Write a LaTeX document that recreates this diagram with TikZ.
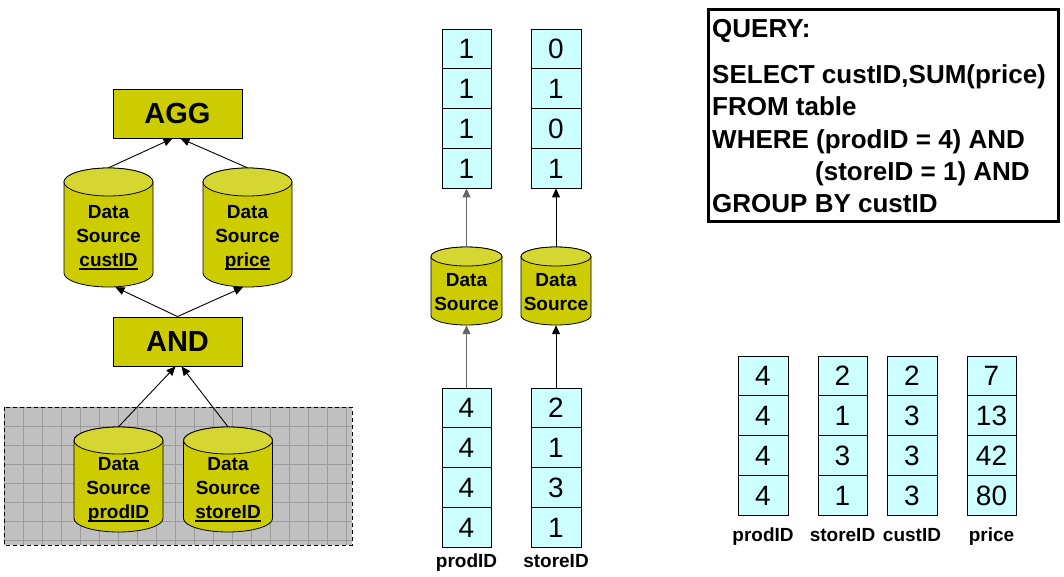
\documentclass[tikz,border=0pt]{standalone}
\usepackage{fontspec}
\setmainfont{Liberation Sans}
\usetikzlibrary{arrows.meta,calc}
\definecolor{ybody}{RGB}{204,204,0}
\definecolor{ytop}{RGB}{214,214,50}
\definecolor{cellc}{RGB}{204,255,255}
\definecolor{greyfill}{RGB}{192,192,192}
\definecolor{gridc}{RGB}{155,155,155}
\tikzset{
  opbox/.style={draw=black,line width=0.9pt,fill=ybody,inner sep=0pt,minimum width=129pt,minimum height=49pt,font=\fontsize{29}{29}\selectfont\bfseries},
  cyltxt/.style={inner sep=0pt,align=center,font=\fontsize{19}{24}\selectfont\bfseries},
  cell/.style={draw=black,line width=0.8pt,fill=cellc,inner sep=0pt,minimum height=39.75pt,text height=20pt,text depth=0pt,font=\fontsize{28}{28}\selectfont},
  lbl/.style={inner sep=0pt,anchor=base,font=\fontsize{19}{19}\selectfont\bfseries},
  qtxt/.style={inner sep=0pt,anchor=base west,font=\fontsize{26}{26}\selectfont\bfseries},
  arr/.style={line width=0.9pt,-{Triangle[length=9pt,width=8pt]}},
  grayarr/.style={arr,line width=1.2pt,draw=gray!80!black},
}
\newcommand{\myul}[1]{\setbox0\hbox{#1}\rlap{\rule[-4pt]{\wd0}{1.8pt}}\box0}
\newcommand{\mycyl}[8]{%
  \filldraw[fill=ybody,draw=black,line width=0.8pt] ({#2-#5},{-#3-#6}) -- ({#2-#5},{-#4+#6}) arc[start angle=180,end angle=360,x radius=#5pt,y radius=#6pt] -- ({#2+#5},{-#3-#6}) arc[start angle=0,end angle=180,x radius=#5pt,y radius=#6pt] -- cycle;
  \filldraw[fill=ytop,draw=black,line width=0.8pt] (#2,{-#3-#6}) ellipse[x radius=#5pt,y radius=#6pt];
  \node[inner sep=0pt,minimum width={2*#5pt},minimum height={(#4-#3)*1pt}] (#1) at (#2,{-(#3+#4)/2}) {};
  \node[cyltxt] (#1t) at (#2,{-(#3+#4)/2-#7}) {#8};
}
\newcommand{\mycol}[8]{%
  \foreach[count=\i] \v in {#5,#6,#7,#8} {
    \node[cell,minimum width=#4pt] (#1\i) at (#2,{-#3-(\i-0.5)*39.75}) {\v};
  }
}
\begin{document}
\begin{tikzpicture}[x=1pt,y=1pt]
\useasboundingbox[fill=white] (0,0) rectangle (1064,-576);
% grey grid region
\begin{scope}
  \clip (4,-407) rectangle (352,-545);
  \fill[greyfill] (4,-407) rectangle (352,-545);
  \draw[gridc,line width=0.6pt,step=19pt,shift={(4,-407)}] (0,0) grid (348,-138);
\end{scope}
\draw[dashed,line width=0.8pt,dash pattern=on 4pt off 3pt] (4,-407) rectangle (352,-545);
% operator boxes
\node[opbox] (agg) at (177.5,-113.5) {AGG};
\node[opbox] (and) at (177.5,-341.5) {AND};
% cylinders (left)
\mycyl{dcust}{108.5}{168}{287}{44.5}{14}{10}{Data\\Source\\\myul{custID}}
\mycyl{dprice}{247.5}{168}{287}{44.5}{14}{10}{Data\\Source\\\myul{price}}
\mycyl{dprod}{118.5}{427}{532}{44.5}{13.5}{10}{Data\\Source\\\myul{prodID}}
\mycyl{dstore}{228}{427}{532}{44.5}{13.5}{10}{Data\\Source\\\myul{storeID}}
% left arrows
\draw[arr] (dcust.north) -- ([xshift=-5pt]agg.south);
\draw[arr] (dprice.north) -- ([xshift=3pt]agg.south);
\draw[arr] (and.north) -- ([xshift=7pt]dcust.south);
\draw[arr] (and.north) -- ([xshift=-4.5pt]dprice.south);
\draw[arr] (dprod.north) -- ([xshift=-2pt]and.south);
\draw[arr] (dstore.north) -- ([xshift=4pt]and.south);
% middle columns
\mycol{ta}{466.5}{29}{49}{1}{1}{1}{1}
\mycol{tb}{556}{29}{50}{0}{1}{0}{1}
\mycyl{ma}{466.5}{247}{325}{35.5}{9.5}{6}{Data\\Source}
\mycyl{mb}{556}{247}{325}{35}{9.5}{6}{Data\\Source}
\mycol{ba}{466.5}{388}{49}{4}{4}{4}{4}
\mycol{bb}{556}{388}{50}{2}{1}{3}{1}
\draw[grayarr] (ma.north) -- (ta4.south);
\draw[arr] (mb.north) -- (tb4.south);
\draw[grayarr] (ba1.north) -- (ma.south);
\draw[arr] (bb1.north) -- (mb.south);
\node[lbl] (lpa) at (466.5,-567) {prodID};
\node[lbl] (lpb) at (556,-567) {storeID};
% query box
\node[draw=black,line width=3pt,inner sep=0pt,minimum width=350pt,minimum height=212pt] (query) at (883,-115) {};
\node[qtxt] (q0) at (712,-37) {QUERY:};
\node[qtxt] (q1) at (712,-83) {SELECT custID,SUM(price)};
\node[qtxt] (q2) at (712,-115) {FROM table};
\node[qtxt] (q3) at (712,-148) {WHERE (prodID = 4) AND};
\node[qtxt] (q4) at (815,-180) {(storeID = 1) AND};
\node[qtxt] (q5) at (712,-212) {GROUP BY custID};
% right table
\mycol{ra}{763}{356}{50}{4}{4}{4}{4}
\mycol{rb}{842.5}{356}{49}{2}{1}{3}{1}
\mycol{rc}{912}{356}{50}{2}{3}{3}{3}
\mycol{rd}{991.5}{356}{49}{7}{13}{42}{80}
\node[lbl] (lra) at (763,-541) {prodID};
\node[lbl] (lrb) at (842.5,-541) {storeID};
\node[lbl] (lrc) at (912,-541) {custID};
\node[lbl] (lrd) at (991.5,-541) {price};
\end{tikzpicture}
\end{document}
